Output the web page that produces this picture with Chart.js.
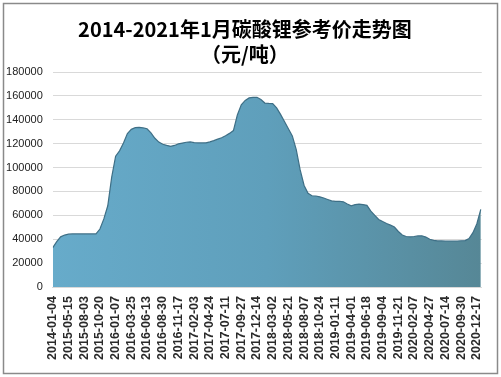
<!DOCTYPE html>
<html>
<head>
<meta charset="utf-8">
<script src="https://cdn.jsdelivr.net/npm/chart.js@4.4.0/dist/chart.umd.min.js"></script>
<style>
  html, body { margin: 0; padding: 0; background: #fff; }
  #wrap { position: relative; width: 501px; height: 377px; }
</style>
</head>
<body>
<div id="wrap"><canvas id="chart" width="501" height="377"></canvas></div>
<script>
// Chart data
const titleLines = ['2014-2021年1月碳酸锂参考价走势图', '（元/吨）'];

// Axis labels shown under the chart (one every 4 data points)
const tickLabels = [
  '2014-01-04', '2015-05-15', '2015-08-03', '2015-10-20', '2016-01-07',
  '2016-03-25', '2016-06-13', '2016-08-30', '2016-11-17', '2017-02-03',
  '2017-04-24', '2017-07-11', '2017-09-27', '2017-12-14', '2018-03-02',
  '2018-05-21', '2018-08-07', '2018-10-24', '2019-01-11', '2019-04-01',
  '2019-06-18', '2019-09-04', '2019-11-21', '2020-02-07', '2020-04-27',
  '2020-07-14', '2020-09-30', '2020-12-17',
];
const pointsPerLabel = 4;

// Price (yuan / ton)
const prices = [
  33000, 38000, 42000, 43500, 44200, 44400, 44400, 44400, 44400, 44400,
  44400, 44400, 48500, 57000, 68000, 92000, 109500, 114000, 120500, 128500,
  132000, 133400, 133600, 133200, 132500, 129000, 124500, 121300, 119500, 118600,
  117800, 118500, 119800, 120500, 121200, 121500, 120800, 120600, 120600, 120700,
  121500, 122500, 123800, 125000, 126700, 128600, 131000, 144000, 152500, 156200,
  158300, 158800, 158800, 157000, 154000, 153700, 153600, 150000, 144500, 138500,
  132500, 126500, 115000, 98000, 85000, 78500, 76400, 76200, 75500, 74500,
  73300, 72100, 71700, 71800, 71300, 69500, 68000, 69000, 69400, 69000,
  68400, 63500, 60000, 56500, 54800, 53200, 51800, 50200, 46500, 43500,
  42300, 42000, 42300, 42800, 42900, 41800, 40000, 39000, 38600, 38600,
  38500, 38500, 38500, 38500, 38700, 38900, 40500, 45500, 53000, 65000,
];

const yMax = 180000;
const yStep = 20000;

// white background + outer frame
const framePlugin = {
  id: 'frame',
  beforeDraw(chart) {
    const { ctx, width, height } = chart;
    ctx.save();
    ctx.fillStyle = '#fff';
    ctx.fillRect(0, 0, width, height);
    ctx.strokeStyle = '#8a8a8a';
    ctx.lineWidth = 1.5;
    ctx.strokeRect(3.5, 3.5, width - 7, height - 7);
    ctx.restore();
  },
};

const areaFill = (context) => {
  const { chart } = context;
  const { ctx, chartArea } = chart;
  if (!chartArea) return '#62a2c0';
  const g = ctx.createLinearGradient(chartArea.left, 0, chartArea.right, 0);
  g.addColorStop(0, '#67abca');
  g.addColorStop(0.5, '#5f9fbb');
  g.addColorStop(1, '#568796');
  return g;
};

const ctx = document.getElementById('chart');
// eslint-disable-next-line no-unused-vars
const chart = new Chart(ctx, {
  type: 'line',
  data: {
    datasets: [
      {
        label: '碳酸锂参考价',
        data: prices.map((v, i) => ({ x: i, y: v })),
        borderColor: '#3e6f86',
        borderWidth: 1.2,
        backgroundColor: areaFill,
        fill: 'origin',
        tension: 0,
        pointRadius: 0,
      },
    ],
  },
  options: {
    responsive: false,
    animation: false,
    layout: {
      padding: { top: 0, bottom: 0, left: 0, right: 11.2 },
    },
    scales: {
      x: {
        type: 'linear',
        min: 0,
        max: (tickLabels.length - 1) * pointsPerLabel + 1.25,
        afterBuildTicks: (scale) => {
          scale.ticks = tickLabels.map((_, i) => ({ value: i * pointsPerLabel }));
        },
        afterFit: (scale) => {
          scale.height = 90;
        },
        grid: { display: false, drawTicks: false },
        border: { display: true, color: '#d9d9d9' },
        ticks: {
          autoSkip: false,
          minRotation: 90,
          maxRotation: 90,
          padding: 9,
          color: '#2a2a2a',
          font: { family: 'Liberation Sans', size: 12.5, weight: 'bold' },
          callback: (value) => tickLabels[value / pointsPerLabel],
        },
      },
      y: {
        min: 0,
        max: yMax,
        afterFit: (scale) => {
          scale.width = 52.8;
        },
        grid: { color: '#d9d9d9', drawTicks: false },
        border: { display: false },
        ticks: {
          stepSize: yStep,
          padding: 10,
          color: '#222',
          font: { family: 'Liberation Sans', size: 11 },
          callback: (value) => String(value),
        },
      },
    },
    plugins: {
      title: {
        display: true,
        text: titleLines,
        color: '#000',
        font: { family: '"Noto Sans CJK SC"', size: 20, weight: 'bold', lineHeight: 1.25 },
        padding: { top: 17, bottom: 5 },
      },
      legend: { display: false },
      tooltip: { enabled: false },
    },
  },
  plugins: [framePlugin],
});
</script>
</body>
</html>
